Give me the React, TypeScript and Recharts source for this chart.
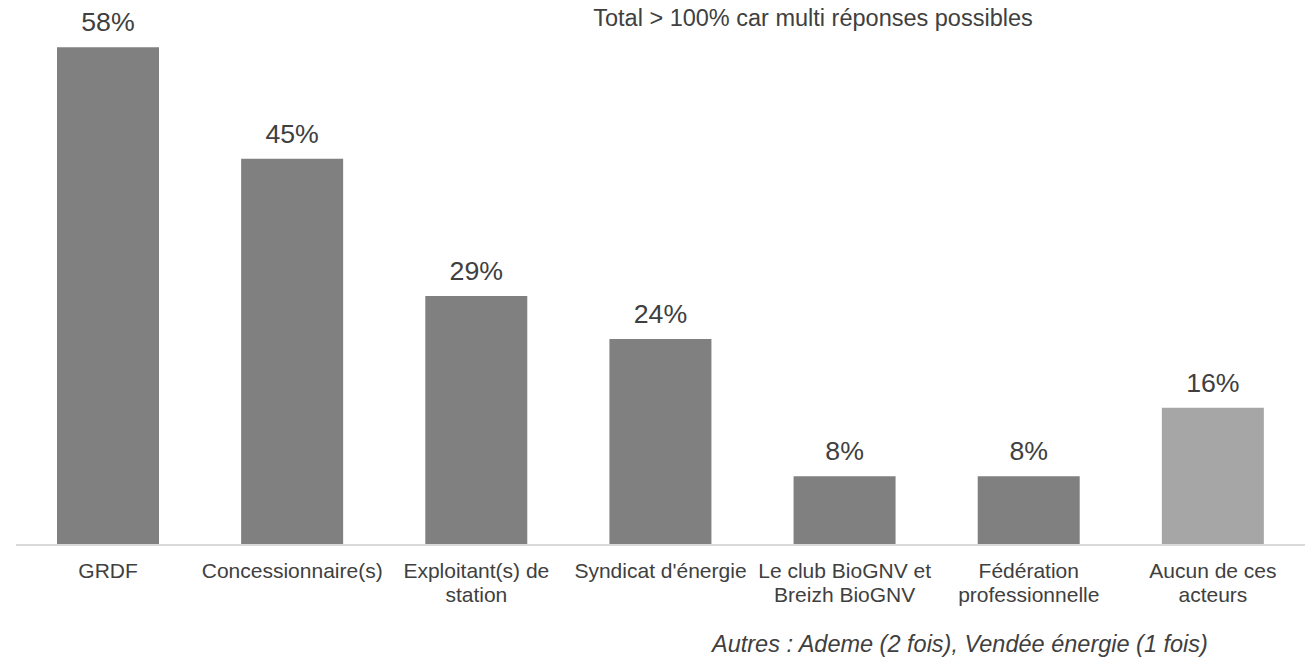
import { BarChart, Bar, XAxis, YAxis, Cell, LabelList } from 'recharts';

const categories = [
  'GRDF',
  'Concessionnaire(s)',
  'Exploitant(s) de\nstation',
  "Syndicat d'énergie",
  'Le club BioGNV et\nBreizh BioGNV',
  'Fédération\nprofessionnelle',
  'Aucun de ces\nacteurs',
];
const shares = [58, 45, 29, 24, 8, 8, 16];
const barColors = ['#808080', '#808080', '#808080', '#808080', '#808080', '#808080', '#A6A6A6'];

const note = 'Total > 100% car multi réponses possibles';
const others = 'Autres : Ademe (2 fois), Vendée énergie (1 fois)';

const data = categories.map((name, i) => ({ name, value: shares[i] }));

const FONT = '"Liberation Sans", Arial, sans-serif';
const TEXT = '#404040';

function CategoryTick({ x, y, payload }: { x: number; y: number; payload: { value: string } }) {
  const lines = String(payload.value).split('\n');
  return (
    <text x={x} y={y} textAnchor="middle" fill={TEXT} fontSize={21} fontFamily={FONT}>
      {lines.map((l, i) => (
        <tspan key={i} x={x} dy={i === 0 ? 25 : 23.5}>
          {l}
        </tspan>
      ))}
    </text>
  );
}

function ValueLabel(props: { x?: number; y?: number; width?: number; value?: number }) {
  const { x = 0, y = 0, width = 0, value } = props;
  return (
    <text x={x + width / 2} y={y - 16} textAnchor="middle" fill={TEXT} fontSize={26.7} fontFamily={FONT}>
      {value}%
    </text>
  );
}

export default function App() {
  return (
    <div style={{ position: 'absolute', left: 0, top: 0, width: 1305, height: 658, background: '#fff' }}>
      <BarChart
        width={1305}
        height={658}
        data={data}
        margin={{ top: 30, right: 0, left: 16, bottom: 53 }}
        barSize={102}
      >
        <XAxis
          dataKey="name"
          axisLine={{ stroke: '#D9D9D9', strokeWidth: 2 }}
          tickLine={false}
          tick={CategoryTick as any}
          interval={0}
          height={60}
        />
        <YAxis hide domain={[0, 60]} />
        <Bar dataKey="value" isAnimationActive={false}>
          {data.map((d, i) => (
            <Cell key={d.name} fill={barColors[i]} />
          ))}
          <LabelList dataKey="value" content={ValueLabel as any} />
        </Bar>
      </BarChart>
      <div
        style={{
          position: 'absolute',
          left: 813,
          top: 3,
          transform: 'translateX(-50%)',
          whiteSpace: 'nowrap',
          fontFamily: FONT,
          fontSize: 23.5,
          color: TEXT,
          lineHeight: '30px',
        }}
      >
        {note}
      </div>
      <div
        style={{
          position: 'absolute',
          left: 712,
          top: 629,
          whiteSpace: 'nowrap',
          fontFamily: FONT,
          fontSize: 23.5,
          fontStyle: 'italic',
          color: TEXT,
          lineHeight: '30px',
        }}
      >
        {others}
      </div>
    </div>
  );
}
